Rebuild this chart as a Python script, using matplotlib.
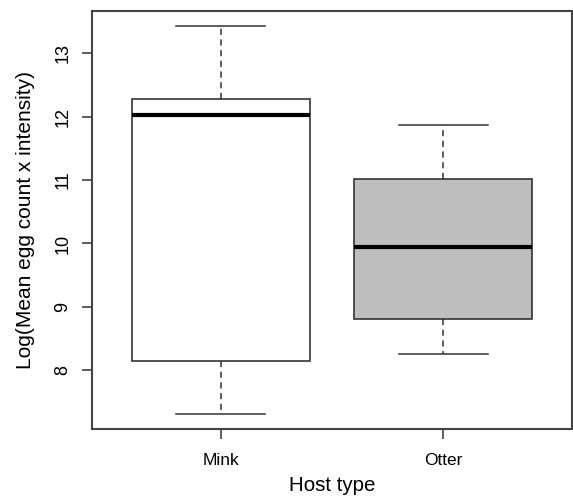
import matplotlib
matplotlib.use('Agg')
import matplotlib.pyplot as plt

# box statistics
hosts = ['Mink', 'Otter']
whisker_low = [7.32, 8.26]
box_low = [8.14, 8.81]
medians = [12.02, 9.95]
box_high = [12.27, 11.02]
whisker_high = [13.42, 11.86]
fills = ['white', '#bebebe']

plt.rcParams['font.family'] = ['Liberation Sans', 'DejaVu Sans']

fig = plt.figure(figsize=(5.73, 4.98), dpi=100)
ax = fig.add_axes([92/573, 1 - 429/498, 480/573, 418/498])

stats = []
for i, h in enumerate(hosts):
    stats.append(dict(label=h, whislo=whisker_low[i], q1=box_low[i], med=medians[i],
                      q3=box_high[i], whishi=whisker_high[i], fliers=[]))

edge = '#333333'
bp = ax.bxp(stats, positions=[1, 2], widths=0.8, patch_artist=True, showfliers=False,
            boxprops=dict(edgecolor=edge, linewidth=1.2),
            medianprops=dict(color='black', linewidth=3, solid_capstyle='butt'),
            whiskerprops=dict(color=edge, linewidth=1.1, linestyle=(0, (4, 3))),
            capprops=dict(color=edge, linewidth=1.1),
            capwidths=0.4)
for patch, c in zip(bp['boxes'], fills):
    patch.set_facecolor(c)

ax.set_xlim(0.42, 2.58)
ax.set_ylim(7.076, 13.664)
ax.set_yticks([8, 9, 10, 11, 12, 13])
ax.set_xticks([1, 2])
ax.set_xticklabels(hosts)
ax.tick_params(axis='y', labelrotation=90, length=7, width=1.1, color=edge, pad=8, labelsize=13)
ax.tick_params(axis='x', length=7, width=1.1, color=edge, pad=10, labelsize=12.5)
for lbl in ax.get_yticklabels():
    lbl.set_verticalalignment('center')
for s in ax.spines.values():
    s.set_linewidth(1.5)
    s.set_color('#444444')

ax.set_xlabel('Host type', fontsize=14.8, labelpad=6)
ax.set_ylabel('Log(Mean egg count x intensity)', fontsize=15, labelpad=14)

fig.savefig('out.png', dpi=100)
